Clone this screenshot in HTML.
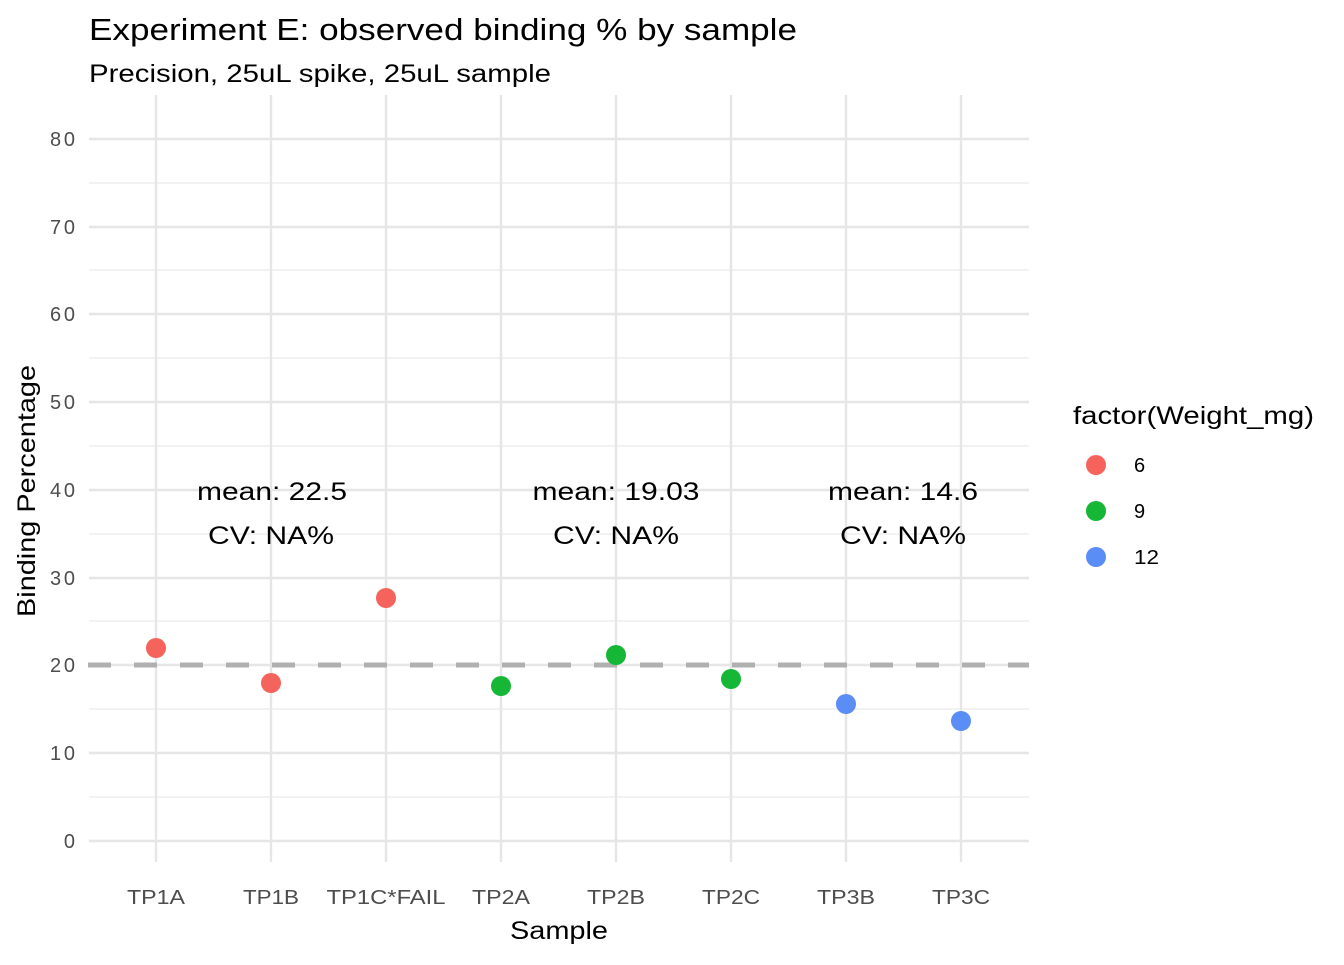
<!DOCTYPE html>
<html><head><meta charset="utf-8"><style>
body{margin:0;background:#fff}
svg text{font-family:"Liberation Sans",Arial,sans-serif}
</style></head><body>
<svg width="1344" height="960" xmlns="http://www.w3.org/2000/svg">
<rect width="1344" height="960" fill="#fff"/>
<g stroke="#ebebeb" stroke-width="1.2">
<line x1="89" x2="1029" y1="797" y2="797"/><line x1="89" x2="1029" y1="709" y2="709"/>
<line x1="89" x2="1029" y1="621" y2="621"/><line x1="89" x2="1029" y1="534" y2="534"/>
<line x1="89" x2="1029" y1="446" y2="446"/><line x1="89" x2="1029" y1="358" y2="358"/>
<line x1="89" x2="1029" y1="270" y2="270"/><line x1="89" x2="1029" y1="183" y2="183"/>
</g>
<g stroke="#e6e6e6" stroke-width="2.4">
<line x1="89" x2="1029" y1="841" y2="841"/><line x1="89" x2="1029" y1="753" y2="753"/>
<line x1="89" x2="1029" y1="665" y2="665"/><line x1="89" x2="1029" y1="578" y2="578"/>
<line x1="89" x2="1029" y1="490" y2="490"/><line x1="89" x2="1029" y1="402" y2="402"/>
<line x1="89" x2="1029" y1="314" y2="314"/><line x1="89" x2="1029" y1="227" y2="227"/>
<line x1="89" x2="1029" y1="139" y2="139"/>
<line x1="156" x2="156" y1="95" y2="862"/><line x1="271" x2="271" y1="95" y2="862"/>
<line x1="386" x2="386" y1="95" y2="862"/><line x1="501" x2="501" y1="95" y2="862"/>
<line x1="616" x2="616" y1="95" y2="862"/><line x1="731" x2="731" y1="95" y2="862"/>
<line x1="846" x2="846" y1="95" y2="862"/><line x1="961" x2="961" y1="95" y2="862"/>
</g>
<g font-size="20" fill="#4d4d4d" text-anchor="end" lengthAdjust="spacingAndGlyphs">
<text x="75" y="848">0</text><text x="75" y="760" textLength="25">10</text><text x="75" y="672" textLength="25">20</text>
<text x="75" y="585" textLength="25">30</text><text x="75" y="497" textLength="25">40</text><text x="75" y="409" textLength="25">50</text>
<text x="75" y="321" textLength="25">60</text><text x="75" y="234" textLength="25">70</text><text x="75" y="146" textLength="25">80</text>
</g>
<g font-size="20" fill="#4d4d4d" text-anchor="middle">
<text x="156" y="904" textLength="58" lengthAdjust="spacingAndGlyphs">TP1A</text>
<text x="271" y="904" textLength="56" lengthAdjust="spacingAndGlyphs">TP1B</text>
<text x="386" y="904" textLength="119" lengthAdjust="spacingAndGlyphs">TP1C*FAIL</text>
<text x="501" y="904" textLength="58" lengthAdjust="spacingAndGlyphs">TP2A</text>
<text x="616" y="904" textLength="58" lengthAdjust="spacingAndGlyphs">TP2B</text>
<text x="731" y="904" textLength="58" lengthAdjust="spacingAndGlyphs">TP2C</text>
<text x="846" y="904" textLength="58" lengthAdjust="spacingAndGlyphs">TP3B</text>
<text x="961" y="904" textLength="58" lengthAdjust="spacingAndGlyphs">TP3C</text>
</g>
<line x1="88" x2="1029" y1="665" y2="665" stroke="#b0b0b0" stroke-width="5" stroke-dasharray="23,23"/>
<g font-size="25" fill="#000" text-anchor="middle">
<text x="272" y="500" textLength="150" lengthAdjust="spacingAndGlyphs">mean: 22.5</text>
<text x="271" y="544" textLength="126" lengthAdjust="spacingAndGlyphs">CV: NA%</text>
<text x="616" y="500" textLength="167" lengthAdjust="spacingAndGlyphs">mean: 19.03</text>
<text x="616" y="544" textLength="126" lengthAdjust="spacingAndGlyphs">CV: NA%</text>
<text x="903" y="500" textLength="150" lengthAdjust="spacingAndGlyphs">mean: 14.6</text>
<text x="903" y="544" textLength="126" lengthAdjust="spacingAndGlyphs">CV: NA%</text>
</g>
<g>
<circle cx="156" cy="648" r="10" fill="#F5635C"/><circle cx="271" cy="683" r="10" fill="#F5635C"/>
<circle cx="386" cy="598" r="10" fill="#F5635C"/><circle cx="501" cy="686" r="10" fill="#16B636"/>
<circle cx="616" cy="655" r="10" fill="#16B636"/><circle cx="731" cy="679" r="10" fill="#16B636"/>
<circle cx="846" cy="704" r="10" fill="#5B8DF6"/><circle cx="961" cy="721" r="10" fill="#5B8DF6"/>
</g>
<text x="89" y="40" font-size="31" textLength="708" lengthAdjust="spacingAndGlyphs">Experiment E: observed binding % by sample</text>
<text x="89" y="82" font-size="25" textLength="462" lengthAdjust="spacingAndGlyphs">Precision, 25uL spike, 25uL sample</text>
<text x="559" y="939" font-size="25" text-anchor="middle" textLength="98" lengthAdjust="spacingAndGlyphs">Sample</text>
<text transform="translate(35,491) rotate(-90)" font-size="25" text-anchor="middle" textLength="252" lengthAdjust="spacingAndGlyphs">Binding Percentage</text>
<text x="1073" y="424" font-size="25" textLength="241" lengthAdjust="spacingAndGlyphs">factor(Weight_mg)</text>
<circle cx="1096" cy="465" r="10" fill="#F5635C"/><circle cx="1096" cy="511" r="10" fill="#16B636"/><circle cx="1096" cy="557" r="10" fill="#5B8DF6"/>
<g font-size="20" fill="#000"><text x="1134" y="472">6</text><text x="1134" y="518">9</text><text x="1134" y="564" textLength="25" lengthAdjust="spacingAndGlyphs">12</text></g>
</svg>
</body></html>
